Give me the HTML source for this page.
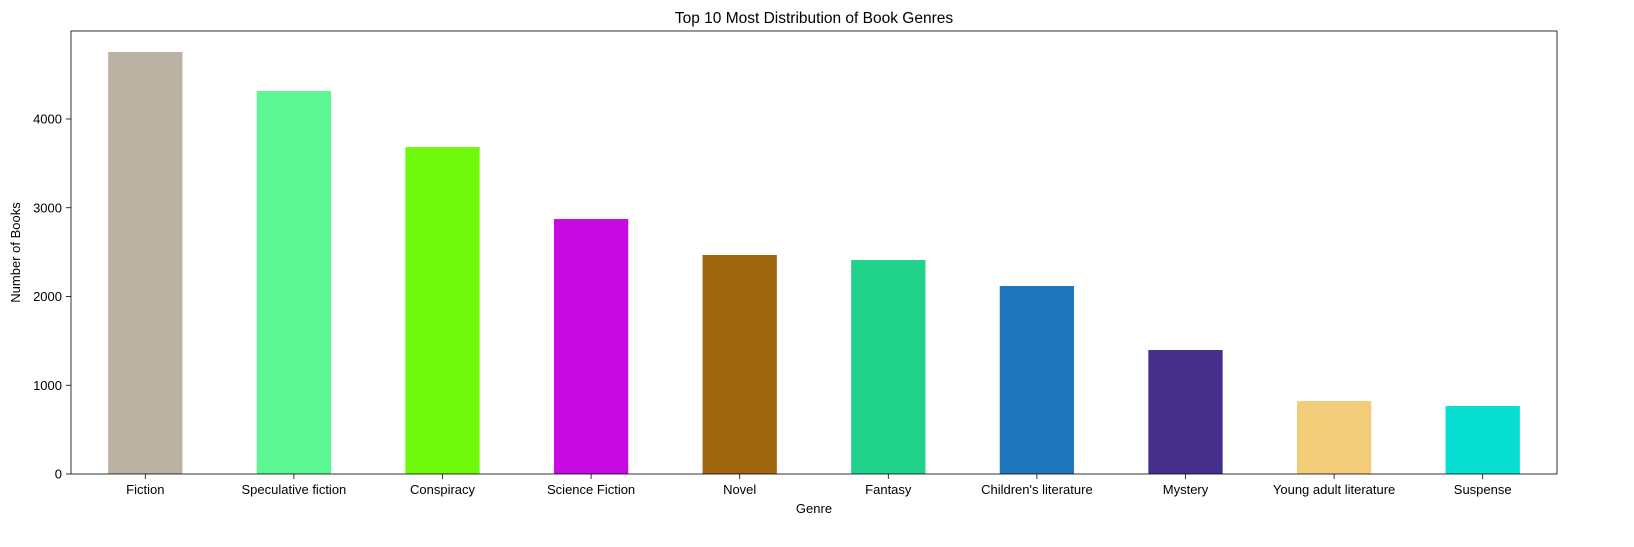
<!DOCTYPE html>
<html><head><meta charset="utf-8"><style>
body{margin:0;background:#fff;}
svg{display:block;font-family:"Liberation Sans","DejaVu Sans",sans-serif;}
</style></head><body>
<svg id="chart" width="1634" height="547"></svg>
<script>
const categories=["Fiction","Speculative fiction","Conspiracy","Science Fiction","Novel","Fantasy","Children's literature","Mystery","Young adult literature","Suspense"];
const counts=[4755,4315,3684,2873,2468,2411,2118,1397,822,766];
const colors=["#bcb2a3","#5af792","#6ffa0b","#c80ae2","#a0660d","#21d28b","#2076bc","#452f8b","#f3cc7a","#06dfd2"];
const yTicks=[0,1000,2000,3000,4000];
const NS="http://www.w3.org/2000/svg";
const svg=document.getElementById('chart');
const L=71,R=1557,T=31,B=474;
const yMax=4000*(B-T)/355;
const y=v=>B-v/yMax*(B-T);
const slot=(R-L)/categories.length;
const x=i=>L+slot*(i+0.5);
function mk(tag,attrs,text){const e=document.createElementNS(NS,tag);for(const k in attrs)e.setAttribute(k,attrs[k]);if(text!==undefined)e.textContent=text;svg.appendChild(e);return e;}
categories.forEach((c,i)=>{
  const r=mk('rect',{x:x(i)-slot*0.25,y:y(counts[i]),width:slot*0.5,height:B-y(counts[i]),fill:colors[i]});
  
  
  const t=mk('line',{x1:x(i),x2:x(i),y1:B,y2:B+5,stroke:'#000','stroke-width':0.8});
  
  
  const l=mk('text',{x:x(i),y:B+20,'font-size':13,'text-anchor':'middle'},c);
  
  
});
yTicks.forEach(v=>{
  const t=mk('line',{x1:L-5,x2:L,y1:y(v),y2:y(v),stroke:'#000','stroke-width':0.8});
  
  
  const l=mk('text',{x:L-9,y:y(v)+4.5,'font-size':13,'text-anchor':'end'},String(v));
  
  
});
const f=mk('rect',{x:L,y:T,width:R-L,height:B-T,fill:'none',stroke:'#000','stroke-width':0.8});


const ti=mk('text',{x:(L+R)/2,y:T-8,'font-size':15.5,'text-anchor':'middle'},'Top 10 Most Distribution of Book Genres');


const xt=mk('text',{x:(L+R)/2,y:B+39,'font-size':13,'text-anchor':'middle'},'Genre');


const yt=mk('text',{x:0,y:0,'font-size':13,'text-anchor':'middle',transform:`translate(20,${(T+B)/2}) rotate(-90)`},'Number of Books');


</script>
</body></html>
